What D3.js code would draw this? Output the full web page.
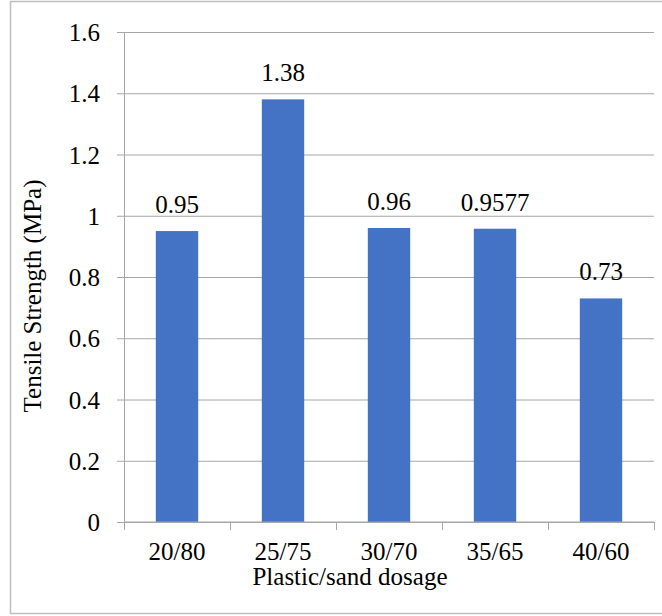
<!DOCTYPE html>
<html>
<head>
<meta charset="utf-8">
<script src="https://cdn.jsdelivr.net/npm/d3@7"></script>
<style>
  body { margin: 0; background: #fff; }
  svg text { font-family: "Liberation Serif", "Times New Roman", serif !important; }
</style>
</head>
<body>
<div id="viz"></div>
<script>
const width = 662;
const height = 616;
const margin = {top: 32, right: 8, bottom: 94, left: 124};

// Data
const dosages = ['20/80', '25/75', '30/70', '35/65', '40/60'];
const strengths = [0.95, 1.38, 0.96, 0.9577, 0.73];
const strengthLabels = ['0.95', '1.38', '0.96', '0.9577', '0.73'];
const yTicks = [0, 0.2, 0.4, 0.6, 0.8, 1, 1.2, 1.4, 1.6];

const data = dosages.map((d, i) => ({dosage: d, value: strengths[i], label: strengthLabels[i]}));

// shared text styling
const serifText = sel => sel
  .style('font-family', '"Liberation Serif", "Times New Roman", serif', 'important')
  .style('font-size', '25px', 'important')
  .attr('fill', '#000');

const svg = d3.select('#viz')
  .append('svg')
    .attr('width', width)
    .attr('height', height);

// chart area border
svg.append('rect')
  .attr('x', 10.5).attr('y', 1.5)
  .attr('width', 670).attr('height', 612)
  .attr('fill', 'none')
  .attr('stroke', '#bfbfbf')
  .attr('stroke-width', 1.5);

const xScale = d3.scaleBand()
  .domain(dosages)
  .range([margin.left, width - margin.right])
  .paddingInner(0.6)
  .paddingOuter(0.3);

const yScale = d3.scaleLinear()
  .domain([0, 1.6])
  .range([height - margin.bottom, margin.top]);

// gridlines + y ticks
const yAxis = d3.axisLeft(yScale)
  .tickValues(yTicks)
  .tickFormat(d3.format('~g'))
  .tickSize(-(width - margin.right - margin.left))
  .tickSizeOuter(0);

const yAxisGroup = svg.append('g')
  .attr('class', 'y-axis-group')
  .attr('transform', `translate(${margin.left}, 0)`)
  .call(yAxis)
  .attr('font-family', null)
  .attr('font-size', null);

yAxisGroup.select('.domain').attr('stroke', '#a6a6a6');
yAxisGroup.selectAll('.tick line')
  .attr('stroke', '#a6a6a6')
  .attr('x1', -7);
yAxisGroup.selectAll('.tick text')
  .attr('x', -24)
  .attr('dy', '0.34em')
  .call(serifText);

// bars
svg.append('g')
  .selectAll('rect')
  .data(data)
  .join('rect')
    .attr('x', d => xScale(d.dosage))
    .attr('y', d => yScale(d.value))
    .attr('width', xScale.bandwidth())
    .attr('height', d => yScale(0) - yScale(d.value))
    .attr('fill', '#4472C4');

// value labels
svg.append('g')
  .selectAll('text')
  .data(data)
  .join('text')
    .attr('x', d => xScale(d.dosage) + xScale.bandwidth() / 2)
    .attr('y', d => yScale(d.value) - 18)
    .attr('text-anchor', 'middle')
    .call(serifText)
    .text(d => d.label);

// x axis with ticks between categories
const xEdges = d3.scaleLinear()
  .domain([0, dosages.length])
  .range([margin.left, width - margin.right]);

const xAxisGroup = svg.append('g')
  .attr('class', 'x-axis-group')
  .attr('transform', `translate(0, ${height - margin.bottom})`);

xAxisGroup.append('line')
  .attr('x1', margin.left).attr('x2', width - margin.right)
  .attr('stroke', '#a6a6a6');

xAxisGroup.selectAll('.edge')
  .data(d3.range(dosages.length + 1))
  .join('line')
    .attr('class', 'edge')
    .attr('x1', d => Math.round(xEdges(d)) + 0.5)
    .attr('x2', d => Math.round(xEdges(d)) + 0.5)
    .attr('y1', 0).attr('y2', 8)
    .attr('stroke', '#a6a6a6');

xAxisGroup.selectAll('.lbl')
  .data(dosages)
  .join('text')
    .attr('class', 'lbl')
    .attr('x', d => xScale(d) + xScale.bandwidth() / 2)
    .attr('y', 38)
    .attr('text-anchor', 'middle')
    .call(serifText)
    .text(d => d);

// axis titles
svg.append('text')
  .attr('x', 350)
  .attr('y', 585)
  .attr('text-anchor', 'middle')
  .call(serifText)
  .text('Plastic/sand dosage');

svg.append('text')
  .attr('transform', 'translate(41, 296) rotate(-90)')
  .attr('text-anchor', 'middle')
  .call(serifText)
  .text('Tensile Strength (MPa)');
</script>
</body>
</html>
